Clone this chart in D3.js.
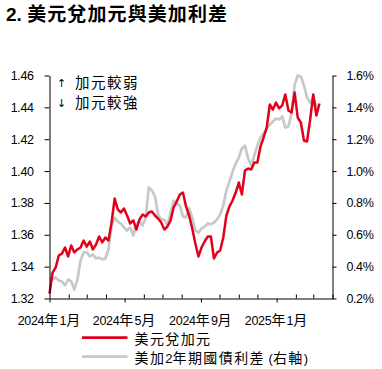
<!DOCTYPE html>
<html><head><meta charset="utf-8">
<script src="https://cdn.jsdelivr.net/npm/d3@7"></script>
<style>
html,body{margin:0;padding:0;background:#fff;}
svg{display:block;}
</style></head>
<body>
<svg id="chart" width="382" height="369"></svg>
<script>
const titleText = "2. 美元兌加元與美加利差";
const dates = ["2024-01-01","2024-01-06","2024-01-11","2024-01-16","2024-01-21","2024-01-26","2024-01-31","2024-02-05","2024-02-10","2024-02-15","2024-02-20","2024-02-25","2024-03-01","2024-03-06","2024-03-11","2024-03-16","2024-03-21","2024-03-26","2024-03-31","2024-04-05","2024-04-10","2024-04-15","2024-04-20","2024-04-25","2024-04-30","2024-05-05","2024-05-10","2024-05-15","2024-05-20","2024-05-25","2024-05-30","2024-06-04","2024-06-09","2024-06-14","2024-06-19","2024-06-24","2024-06-29","2024-07-04","2024-07-09","2024-07-14","2024-07-19","2024-07-24","2024-07-29","2024-08-03","2024-08-08","2024-08-13","2024-08-18","2024-08-23","2024-08-28","2024-09-02","2024-09-07","2024-09-12","2024-09-17","2024-09-22","2024-09-27","2024-10-02","2024-10-07","2024-10-12","2024-10-17","2024-10-22","2024-10-27","2024-11-01","2024-11-06","2024-11-11","2024-11-16","2024-11-21","2024-11-26","2024-12-01","2024-12-06","2024-12-11","2024-12-16","2024-12-21","2024-12-26","2024-12-31","2025-01-05","2025-01-10","2025-01-15","2025-01-20","2025-01-25","2025-01-30","2025-02-04","2025-02-09","2025-02-14","2025-02-19","2025-02-24","2025-03-01","2025-03-06","2025-03-11"];
const usdcad = [1.3231,1.3363,1.3395,1.3470,1.3482,1.3520,1.3464,1.3533,1.3489,1.3508,1.3520,1.3564,1.3526,1.3558,1.3508,1.3539,1.3589,1.3552,1.3583,1.3564,1.3677,1.3828,1.3759,1.3740,1.3765,1.3721,1.3671,1.3690,1.3633,1.3696,1.3727,1.3715,1.3740,1.3746,1.3721,1.3702,1.3677,1.3633,1.3652,1.3690,1.3771,1.3809,1.3853,1.3865,1.3778,1.3721,1.3639,1.3545,1.3464,1.3520,1.3558,1.3589,1.3589,1.3451,1.3489,1.3501,1.3583,1.3721,1.3778,1.3815,1.3865,1.3928,1.3853,1.4004,1.4016,1.4010,1.4054,1.4054,1.4154,1.4211,1.4273,1.4418,1.4386,1.4430,1.4393,1.4412,1.4481,1.4380,1.4368,1.4493,1.4336,1.4305,1.4192,1.4186,1.4324,1.4481,1.4349,1.4424];
const spread = [0.332,0.319,0.332,0.313,0.307,0.282,0.319,0.307,0.256,0.319,0.439,0.489,0.489,0.464,0.476,0.451,0.457,0.445,0.451,0.508,0.652,0.708,0.683,0.671,0.646,0.627,0.646,0.595,0.665,0.683,0.658,0.708,0.897,0.878,0.840,0.727,0.696,0.696,0.658,0.734,0.815,0.796,0.784,0.715,0.708,0.765,0.708,0.627,0.614,0.639,0.652,0.671,0.665,0.677,0.696,0.727,0.784,0.878,0.934,0.997,1.047,1.085,1.142,1.160,1.079,1.035,1.098,1.160,1.211,1.236,1.267,1.292,1.311,1.330,1.324,1.343,1.273,1.280,1.361,1.543,1.600,1.594,1.537,1.462,1.430,1.462,1.412,1.399];
const leftTicks = [1.32,1.34,1.36,1.38,1.40,1.42,1.44,1.46];
const rightTicks = [0.2,0.4,0.6,0.8,1.0,1.2,1.4,1.6];
const xLabelDates = ["2024-01-01","2024-05-01","2024-09-01","2025-01-01"];
const xLabels = ["2024年1月","2024年5月","2024年9月","2025年1月"];
const seriesNames = ["美元兌加元","美加2年期國債利差 (右軸)"];
const notes = [["↑","加元較弱"],["↓","加元較強"]];

const RED = "#E2001A", GRAY = "#C8C8C8";
const LATIN = "'Liberation Sans', Arial, sans-serif";
const CJK = "'Noto Sans CJK TC', 'Noto Sans CJK SC', sans-serif";
const parse = d3.timeParse("%Y-%m-%d");

const svg = d3.select("#chart");

function rich(sel, str, latinSize, cjkSize, latinSp, cjkSp) {
  const parts = str.match(/[\u3000-\u9fff\uff00-\uffef]+|[^\u3000-\u9fff\uff00-\uffef]+/g);
  parts.forEach(p => {
    const isC = /[\u3000-\u9fff\uff00-\uffef]/.test(p);
    sel.append("tspan").text(p)
      .attr("font-family", isC ? CJK : LATIN)
      .attr("font-size", isC ? cjkSize : latinSize)
      .attr("letter-spacing", isC ? cjkSp : latinSp);
  });
  return sel;
}

// title
rich(svg.append("text").attr("x", 6).attr("y", 20.5).attr("font-weight", "bold").attr("fill", "#000"),
  titleText, 19, 19, 0, 1.1);

const L = 49.5, R = 332.5, T = 75.5, B = 298.5;
const x = d3.scaleTime().domain([parse("2024-01-01"), parse("2025-04-01")]).range([L, R]);
const yL = d3.scaleLinear().domain([1.32, 1.46]).range([B, T]);
const yR = d3.scaleLinear().domain([0.2, 1.6]).range([B, T]);

const data = dates.map((d, i) => ({ date: parse(d), cad: usdcad[i], sp: spread[i] }));

// lines: gray (secondary) then red
const lineSp = d3.line().x(d => x(d.date)).y(d => yR(d.sp));
const lineCad = d3.line().x(d => x(d.date)).y(d => yL(d.cad));
svg.append("path").datum(data).attr("d", lineSp).attr("fill", "none")
  .attr("stroke", GRAY).attr("stroke-width", 2.7).attr("stroke-linejoin", "round");
svg.append("path").datum(data).attr("d", lineCad).attr("fill", "none")
  .attr("stroke", RED).attr("stroke-width", 2.5).attr("stroke-linejoin", "round");

// left axis
const gL = svg.append("g").attr("transform", `translate(${L},0)`)
  .call(d3.axisLeft(yL).tickValues(leftTicks).tickSize(5).tickSizeOuter(0).tickPadding(11)
    .tickFormat(d3.format(".2f")));
// right axis
const gR = svg.append("g").attr("transform", `translate(${R},0)`)
  .call(d3.axisRight(yR).tickValues(rightTicks).tickSize(4).tickSizeOuter(0).tickPadding(10)
    .tickFormat(d => d.toFixed(1) + "%"));
[gL, gR].forEach(g => {
  g.selectAll("text").attr("font-family", LATIN).attr("font-size", 12.5)
    .attr("letter-spacing", -0.4).attr("fill", "#000");
  g.selectAll("line,path").attr("stroke", "#000");
});

// x axis
const majors = xLabelDates.map(parse);
const months = d3.timeMonth.range(parse("2024-01-01"), parse("2025-04-02"));
const minors = months.filter(m => !majors.some(mm => +mm === +m));
const gXmin = svg.append("g").attr("transform", `translate(0,${B})`)
  .call(d3.axisTop(x).tickValues(minors).tickSize(4).tickSizeOuter(0).tickFormat(""));
const gXmaj = svg.append("g").attr("transform", `translate(0,${B})`)
  .call(d3.axisBottom(x).tickValues(majors).tickSize(4).tickSizeOuter(0).tickFormat(""));
[gXmin, gXmaj].forEach(g => g.selectAll("line,path").attr("stroke", "#000"));
gXmaj.select("path").remove();

majors.forEach((m, i) => {
  rich(svg.append("text").attr("x", x(m)).attr("y", 325).attr("text-anchor", "middle").attr("fill", "#000"),
    xLabels[i], 12.5, 14, -0.3, 1.2);
});

// annotations
notes.forEach((n, i) => {
  const yy = 88 + i * 20;
  svg.append("text").attr("x", 61.7).attr("y", yy - 1).attr("text-anchor", "middle")
    .attr("font-family", "'DejaVu Sans', sans-serif").attr("font-size", 11).attr("fill", "#000")
    .style("font-variant-emoji", "text").text(n[0] + "\uFE0E");
  rich(svg.append("text").attr("x", 75).attr("y", yy).attr("fill", "#000"), n[1], 13, 14.5, 0, 1.5);
});

// legend
const legendY = [337.7, 356.7];
const legendColors = [RED, GRAY];
seriesNames.forEach((s, i) => {
  svg.append("line").attr("x1", 82).attr("x2", 127.5).attr("y1", legendY[i]).attr("y2", legendY[i])
    .attr("stroke", legendColors[i]).attr("stroke-width", 2.7);
  rich(svg.append("text").attr("x", 134.5).attr("y", legendY[i] + 6).attr("fill", "#000"),
    s, 13, 14, 0, 1.4);
});
</script>
</body></html>
